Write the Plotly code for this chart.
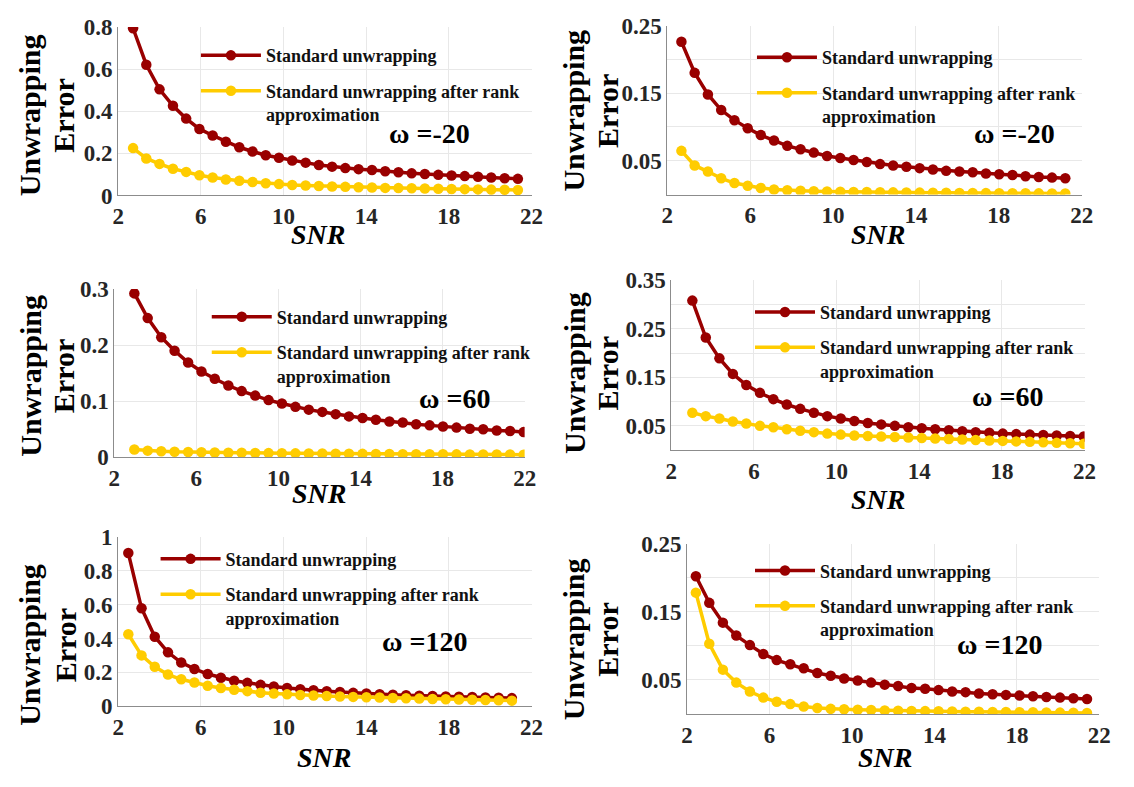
import plotly.graph_objects as go

FONT = "Liberation Serif, Times New Roman, serif"
RED = "#990000"
GOLD = "#FFCC00"
W, H = 1134, 787

# ---------------- data ----------------
SNR_1 = [2.72, 3.36, 4.00, 4.65, 5.29, 5.93, 6.57, 7.21, 7.86, 8.50, 9.14, 9.78, 10.42, 11.07, 11.71,
         12.35, 12.99, 13.63, 14.28, 14.92, 15.56, 16.20, 16.84, 17.49, 18.13, 18.77, 19.41, 20.05, 20.70, 21.34]
STD_1 = [0.794, 0.621, 0.504, 0.426, 0.365, 0.316, 0.285, 0.255, 0.229, 0.209, 0.191, 0.179, 0.166, 0.156, 0.145,
         0.137, 0.130, 0.125, 0.121, 0.115, 0.110, 0.105, 0.102, 0.098, 0.095, 0.092, 0.089, 0.085, 0.082, 0.079]
RANK_1 = [0.225, 0.176, 0.150, 0.127, 0.112, 0.096, 0.085, 0.076, 0.070, 0.064, 0.058, 0.054, 0.050, 0.047, 0.045,
          0.043, 0.041, 0.039, 0.038, 0.036, 0.035, 0.034, 0.033, 0.032, 0.031, 0.030, 0.029, 0.028, 0.027, 0.026]

SNR_2 = [2.68, 3.32, 3.96, 4.60, 5.24, 5.88, 6.51, 7.15, 7.79, 8.43, 9.07, 9.71, 10.35, 10.99, 11.63,
         12.27, 12.90, 13.54, 14.18, 14.82, 15.46, 16.10, 16.74, 17.38, 18.02, 18.66, 19.29, 19.93, 20.57, 21.21]
STD_2 = [0.226, 0.180, 0.148, 0.125, 0.110, 0.098, 0.088, 0.080, 0.072, 0.067, 0.062, 0.057, 0.054, 0.051, 0.048,
         0.045, 0.043, 0.041, 0.039, 0.037, 0.035, 0.034, 0.033, 0.031, 0.030, 0.029, 0.027, 0.026, 0.025, 0.024]
RANK_2 = [0.0646, 0.043, 0.034, 0.024, 0.017, 0.013, 0.0097, 0.0074, 0.0062, 0.0055, 0.0050, 0.0046, 0.0042, 0.0039, 0.0036,
          0.0034, 0.0032, 0.0030, 0.0028, 0.0026, 0.0025, 0.0023, 0.0022, 0.0021, 0.0020, 0.0019, 0.0018, 0.0017, 0.0016, 0.0015]

SNR_3 = [2.98, 3.63, 4.29, 4.94, 5.60, 6.25, 6.90, 7.56, 8.21, 8.87, 9.52, 10.17, 10.83, 11.48, 12.14,
         12.79, 13.44, 14.10, 14.75, 15.41, 16.06, 16.71, 17.37, 18.02, 18.68, 19.33, 19.98, 20.64, 21.29, 21.95]
STD_3 = [0.292, 0.248, 0.214, 0.190, 0.169, 0.153, 0.140, 0.128, 0.118, 0.110, 0.102, 0.096, 0.090, 0.085, 0.081,
         0.077, 0.073, 0.070, 0.067, 0.064, 0.062, 0.059, 0.057, 0.055, 0.053, 0.051, 0.050, 0.048, 0.047, 0.045]
RANK_3 = [0.014, 0.012, 0.011, 0.010, 0.0095, 0.0090, 0.0087, 0.0084, 0.0081, 0.0078, 0.0076, 0.0074, 0.0072, 0.0070, 0.0068,
          0.0066, 0.0064, 0.0063, 0.0061, 0.0060, 0.0058, 0.0057, 0.0056, 0.0055, 0.0054, 0.0053, 0.0052, 0.0051, 0.0050, 0.0049]

SNR_4 = [3.02, 3.67, 4.33, 4.98, 5.63, 6.29, 6.94, 7.59, 8.24, 8.90, 9.55, 10.20, 10.86, 11.51, 12.16,
         12.82, 13.47, 14.12, 14.77, 15.43, 16.08, 16.73, 17.39, 18.04, 18.69, 19.35, 20.00, 20.65, 21.30, 21.96]
STD_4 = [0.308, 0.232, 0.189, 0.157, 0.134, 0.118, 0.105, 0.094, 0.085, 0.077, 0.070, 0.065, 0.060, 0.056, 0.053,
         0.050, 0.047, 0.045, 0.043, 0.041, 0.039, 0.037, 0.036, 0.034, 0.033, 0.032, 0.031, 0.030, 0.029, 0.028]
RANK_4 = [0.077, 0.070, 0.065, 0.059, 0.055, 0.050, 0.047, 0.043, 0.040, 0.037, 0.034, 0.032, 0.030, 0.029, 0.028,
          0.027, 0.026, 0.025, 0.024, 0.023, 0.022, 0.021, 0.020, 0.019, 0.018, 0.017, 0.016, 0.015, 0.014, 0.013]

SNR_5 = [2.49, 3.13, 3.77, 4.41, 5.05, 5.69, 6.33, 6.97, 7.61, 8.25, 8.89, 9.53, 10.17, 10.81, 11.45,
         12.09, 12.73, 13.37, 14.01, 14.65, 15.29, 15.93, 16.57, 17.21, 17.85, 18.49, 19.13, 19.77, 20.41, 21.05]
STD_5 = [0.904, 0.578, 0.410, 0.318, 0.258, 0.220, 0.190, 0.168, 0.150, 0.138, 0.126, 0.116, 0.108, 0.100, 0.094,
         0.089, 0.084, 0.079, 0.075, 0.071, 0.068, 0.065, 0.062, 0.060, 0.058, 0.056, 0.054, 0.052, 0.050, 0.048]
RANK_5 = [0.425, 0.300, 0.233, 0.187, 0.159, 0.140, 0.121, 0.108, 0.097, 0.089, 0.080, 0.075, 0.070, 0.066, 0.063,
          0.060, 0.057, 0.055, 0.053, 0.051, 0.049, 0.047, 0.045, 0.043, 0.041, 0.040, 0.038, 0.037, 0.035, 0.033]

SNR_6 = [2.43, 3.08, 3.74, 4.39, 5.05, 5.70, 6.35, 7.01, 7.66, 8.32, 8.97, 9.62, 10.28, 10.93, 11.59,
         12.24, 12.89, 13.55, 14.20, 14.86, 15.51, 16.16, 16.82, 17.47, 18.13, 18.78, 19.43, 20.09, 20.74, 21.40]
STD_6 = [0.202, 0.163, 0.134, 0.115, 0.101, 0.088, 0.079, 0.073, 0.067, 0.060, 0.056, 0.052, 0.049, 0.046, 0.043,
         0.041, 0.038, 0.037, 0.035, 0.033, 0.032, 0.030, 0.029, 0.028, 0.027, 0.026, 0.025, 0.024, 0.023, 0.022]
RANK_6 = [0.178, 0.103, 0.065, 0.046, 0.033, 0.024, 0.018, 0.0145, 0.011, 0.0088, 0.0075, 0.0068, 0.0062, 0.0057, 0.0052,
          0.0048, 0.0045, 0.0042, 0.0039, 0.0036, 0.0034, 0.0032, 0.0030, 0.0028, 0.0026, 0.0024, 0.0022, 0.0020, 0.0018, 0.0016]

SERIES_NAMES = ["Standard unwrapping", "Standard unwrapping after rank<br>approximation"]
OMEGA_LABELS = ["ω =-20", "ω =-20", "ω =60", "ω =60", "ω =120", "ω =120"]
X_TICKS = [2, 6, 10, 14, 18, 22]
X_TEXT = ["2", "6", "10", "14", "18", "22"]
Y_TICKS_A = [0, 0.2, 0.4, 0.6, 0.8]
Y_TEXT_A = ["0", "0.2", "0.4", "0.6", "0.8"]
Y_TICKS_B = [0.05, 0.10, 0.15, 0.20, 0.25]
Y_TEXT_B = ["0.05", "", "0.15", "", "0.25"]
Y_TICKS_C = [0, 0.1, 0.2, 0.3]
Y_TEXT_C = ["0", "0.1", "0.2", "0.3"]
Y_TICKS_D = [0.05, 0.10, 0.15, 0.20, 0.25, 0.30, 0.35]
Y_TEXT_D = ["0.05", "", "0.15", "", "0.25", "", "0.35"]
Y_TICKS_E = [0, 0.2, 0.4, 0.6, 0.8, 1.0]
Y_TEXT_E = ["0", "0.2", "0.4", "0.6", "0.8", "1"]

DATA = [
    (SNR_1, STD_1, RANK_1, [0, 0.8], Y_TICKS_A, Y_TEXT_A),
    (SNR_2, STD_2, RANK_2, [0, 0.25], Y_TICKS_B, Y_TEXT_B),
    (SNR_3, STD_3, RANK_3, [0, 0.3], Y_TICKS_C, Y_TEXT_C),
    (SNR_4, STD_4, RANK_4, [0, 0.35], Y_TICKS_D, Y_TEXT_D),
    (SNR_5, STD_5, RANK_5, [0, 1.0], Y_TICKS_E, Y_TEXT_E),
    (SNR_6, STD_6, RANK_6, [0, 0.25], Y_TICKS_B, Y_TEXT_B),
]

# ---------------- layout (pixel boxes) ----------------
BOXES = [
    (114, 534, 15.5, 189.5),
    (672, 1093, 14, 188.5),
    (110, 527, 286, 460),
    (676, 1096, 277, 452.5),
    (114, 534, 542, 717),
    (692, 1111, 549, 725),
]
LEG = [(198, 43), (763, 45), (209, 313), (761, 308), (157, 563), (761, 575)]
YT = [(24, 59, 107), (577, 611, 102), (24, 58, 376), (577, 611, 373), (24, 60, 654), (577, 611, 648)]
SNR_POS = [(317, 230), (886, 230), (318, 497), (886, 503), (323, 770), (893, 770)]
OMEGA_POS = [(430, 123), (1025, 123), (456, 397), (1018, 395), (425, 648), (1010, 651)]

def bold(items):
    return [f"<b>{s}</b>" if s else "" for s in items]

fig = go.Figure()
annotations = []
tick_font = dict(family=FONT, size=23, color="#262626")

for k, (snr, std, rank, yr, ytv, ytt) in enumerate(DATA):
    n = k + 1
    xa = "x" if n == 1 else f"x{n}"
    ya = "y" if n == 1 else f"y{n}"
    lg = "legend" if n == 1 else f"legend{n}"
    for vals, color, name, gi in ((std, RED, SERIES_NAMES[0], 0), (rank, GOLD, SERIES_NAMES[1], 1)):
        fig.add_trace(go.Scatter(
            x=snr, y=vals, xaxis=xa, yaxis=ya, name=f"<b>{name}</b>", mode="lines+markers",
            line=dict(color=color, width=3.5), marker=dict(color=color, size=10.5, symbol="circle"),
            legend=lg, legendgroup=f"p{n}s{gi}", showlegend=True,
        ))
    l, r, t, b = BOXES[k]
    xkey = "xaxis" if n == 1 else f"xaxis{n}"
    ykey = "yaxis" if n == 1 else f"yaxis{n}"
    fig.update_layout(**{
        xkey: dict(domain=[l / W, r / W], anchor=ya, range=[2, 22], tickvals=X_TICKS, ticktext=bold(X_TEXT),
                   showgrid=True, gridcolor="#e8e8e8", gridwidth=1, zeroline=False,
                   showline=True, linecolor="#8c8c8c", linewidth=1, ticks="", tickfont=tick_font),
        ykey: dict(domain=[1 - b / H, 1 - t / H], anchor=xa, range=yr, tickvals=ytv, ticktext=bold(ytt),
                   showgrid=True, gridcolor="#e8e8e8", gridwidth=1, zeroline=False,
                   showline=True, linecolor="#8c8c8c", linewidth=1, ticks="", tickfont=tick_font),
    })
    lx, ly = LEG[k]
    fig.update_layout(**{lg: dict(
        x=(lx - 5) / W, y=1 - (ly - 17) / H, xanchor="left", yanchor="top",
        bgcolor="rgba(0,0,0,0)", borderwidth=0, valign="top", tracegroupgap=9,
        itemwidth=60,
        font=dict(family=FONT, size=18, color="#111111"),
    )})
    ux, ex, yc_px = YT[k]
    yc = 1 - yc_px / H
    for txt, xx in (("Unwrapping", ux), ("Error", ex)):
        annotations.append(dict(text=f"<b>{txt}</b>", x=xx / W, y=yc, xref="paper", yref="paper",
                                xanchor="center", yanchor="middle", textangle=-90, showarrow=False,
                                font=dict(family=FONT, size=30, color="black")))
    sx, sy = SNR_POS[k]
    annotations.append(dict(text="<b><i>SNR</i></b>", x=sx / W, y=1 - sy / H, xref="paper", yref="paper",
                            xanchor="center", yanchor="middle", showarrow=False,
                            font=dict(family=FONT, size=28, color="black")))
    ox, oy = OMEGA_POS[k]
    annotations.append(dict(text=f"<b>{OMEGA_LABELS[k]}</b>", x=ox / W, y=1 - (oy + 2) / H, xref="paper", yref="paper",
                            xanchor="center", yanchor="middle", showarrow=False,
                            font=dict(family=FONT, size=28, color="black")))

fig.update_layout(
    width=W, height=H, margin=dict(l=0, r=0, t=0, b=0),
    paper_bgcolor="white", plot_bgcolor="white",
    annotations=annotations,
    font=dict(family=FONT),
)
fig.write_html("out.html")
